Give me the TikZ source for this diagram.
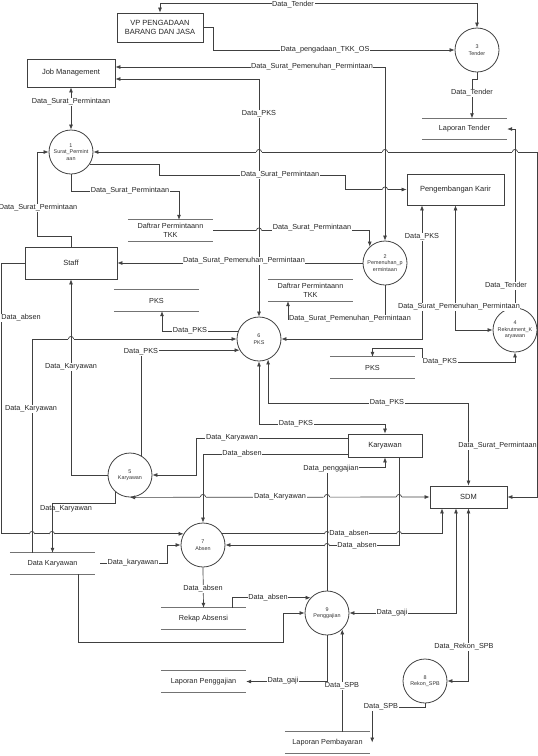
\documentclass[tikz,border=0pt]{standalone}
\usepackage{fontspec}
\setmainfont{Liberation Sans}
\usetikzlibrary{arrows.meta}

\newcommand{\lblfont}{\fontsize{7.3}{8.5}\selectfont}
\newcommand{\entfont}{\fontsize{7.5}{9}\selectfont}
\newcommand{\procfont}{\fontsize{5.4}{6.4}\selectfont}

\tikzset{
  ent/.style={draw=black!75, line width=0.8pt, fill=white, align=center, font=\entfont, text=black!85, inner sep=1pt},
  proc/.style={draw=black!75, line width=0.8pt, circle, minimum size=44pt, inner sep=0pt, align=center, font=\procfont, text=black!80},
  store line/.style={draw=black!55, line width=1.1pt},
  store/.style={minimum width=85pt, minimum height=21pt, inner sep=0pt, align=center, font=\lblfont, text=black!85,
    append after command={(\tikzlastnode.north west) edge[store line] (\tikzlastnode.north east)
      (\tikzlastnode.south west) edge[store line] (\tikzlastnode.south east)}},
  flow/.style={draw=black!75, line width=0.7pt},
  lbl/.style={fill=white, inner sep=0.6pt, font=\lblfont, text=black!85},
}

\begin{document}
\begin{tikzpicture}[x=1pt, y=-1pt, >={Latex[length=5pt,width=4pt]}]
		\useasboundingbox (0,0) rectangle (538,756);

		% entitas
		\node[ent, minimum width=86, minimum height=29] (vp) at (160,27.5) {VP PENGADAAN\\BARANG DAN JASA};
		\node[ent, minimum width=88, minimum height=28] (jm) at (71,73) {Job Management};
		\node[ent, minimum width=92, minimum height=32] (staff) at (71,263) {Staff};
		\node[ent, minimum width=97, minimum height=31] (pk) at (455.5,189.5) {Pengembangan Karir};
		\node[ent, minimum width=74, minimum height=23] (ky) at (385,445.5) {Karyawan};
		\node[ent, minimum width=77, minimum height=22] (sdm) at (468.5,497) {SDM};

		% proses
		\node[proc] (p1) at (71,152) {1\\Surat\_Permint\\aan};
		\node[proc] (p2) at (385,263) {2\\Pemenuhan\_p\\ermintaan};
		\node[proc] (p3) at (477,50) {3\\Tender};
		\node[proc] (p4) at (515,330) {4\\Rekrutment\_K\\aryawan};
		\node[proc] (p5) at (130,475) {5\\Karyawan};
		\node[proc] (p6) at (259,339) {6\\PKS};
		\node[proc] (p7) at (203,545) {7\\Absen};
		\node[proc] (p8) at (425,681) {8\\Rekon\_SPB};
		\node[proc] (p9) at (327,613) {9\\Penggajian};

		% penyimpanan data
		\node[store] (lt) at (464.5,129) {Laporan Tender};
		\node[store] (dt1) at (170.5,230.5) {Daftrar Permintaann\\TKK};
		\node[store] (dt2) at (310.5,290.5) {Daftrar Permintaann\\TKK};
		\node[store] (ps1) at (156.5,300.5) {PKS};
		\node[store] (ps2) at (372.5,367.5) {PKS};
		\node[store] (dk) at (52.5,563.5) {Data Karyawan};
		\node[store] (ra) at (203.5,618.5) {Rekap Absensi};
		\node[store] (lpg) at (203.5,681.5) {Laporan Penggajian};
		\node[store] (lpb) at (327.5,742.5) {Laporan Pembayaran};

		% aliran data (atas)
		\draw[flow, <->] (vp.north) -- ++(0,-9) -| (p3.north);
		\draw[flow, ->] (vp.east) -- (213,27.5) |- (p3.west);
		\draw[flow, <->] ([yshift=6pt]jm.east) -| (p2.north);
		\draw[flow, <->] (jm.south) -- (p1.north);
		\draw[flow, <->] ([yshift=-6pt]jm.east) -| (p6.north);
		\draw[flow, <->] (p1.east) -- (537,152) |- (sdm.east);
		\draw[flow, ->] (p1.-33) -| (159,175) -- (345,175) |- (pk.west);
		\draw[flow, ->] (p1.south) |- ++(108,17) -- ([xshift=8.5pt]dt1.north);
		\draw[flow, ->] (staff.north) -- ++(0,-10) -| ([xshift=-11pt]p1.west) -- (p1.west);
		\draw[flow, ->] (p2.west) -- (staff.east);
		\draw[flow, ->] (p2.south) |- ++(-97,34) -- ([xshift=-22.5pt]dt2.south);
		\draw[flow, ->] (dt1.east) -| (p2.133);
		\draw[flow, <->] ([xshift=-33.5pt]pk.south) |- (p6.east);
		\draw[flow, <->] (pk.south) |- (p4.west);
		\draw[flow, ->] (p4.north) |- (lt.east);
		\draw[flow, ->] (p3.south) -- ++(0,7) -| ([xshift=7.5pt]lt.north);
		\draw[flow, <->] (ps2.north) -- ++(0,-8) -| (422,362) -| (p4.south);

		% aliran data (tengah)
		\draw[flow, ->] (p6.161) -| ([xshift=5.5pt]ps1.south);
		\draw[flow, ->] ([xshift=-20.5pt]dk.north) |- (p6.west);
		\draw[flow, ->] (p5.60) |- (p6.210);
		\draw[flow, ->] (p5.west) -| (staff.south);
		\draw[flow, ->] (p5.-130) -- ++(0,11) -| (dk.north);
		\draw[flow, ->] ([yshift=7.5pt]ky.west) -- ++(-151,0) |- (p5.east);
		\draw[flow, ->] ([yshift=-8.5pt]ky.west) -| (p7.north);
		\draw[flow, <->] (p5.south) -- (sdm.west);
		\draw[flow, ->] (staff.west) -- ++(-23,0) |- (p7.150);
		\draw[flow, ->] ([xshift=5pt]dk.east) -- ++(67,0) |- (p7.west);
		\draw[flow, ->] (p7.30) -| ([xshift=-26.5pt]sdm.south);
		\draw[flow, ->] ([xshift=14pt]ky.south) |- (p7.east);
		\draw[flow, ->] (p9.north) -- ++(0,-123) -| (ky.south);
		\draw[flow, <->] (p6.south) -- ++(0,63) -| (ky.north);
		\draw[flow, <->] (p6.-66) -- ++(0,44) -| (sdm.north);

		% aliran data (bawah)
		\draw[flow, <->] ([xshift=-12.5pt]sdm.south) |- (p9.east);
		\draw[flow, <->] (sdm.south) |- (p8.east);
		\draw[flow, ->] (p7.south) -- (ra.north);
		\draw[flow, ->] ([xshift=28.5pt]ra.north) |- (p9.137);
		\draw[flow, ->] ([xshift=25.5pt]dk.south) -- ++(0,68) -| ([xshift=-21pt]p9.west) -- (p9.west);
		\draw[flow, ->] (p9.south) |- (lpg.east);
		\draw[flow, ->] (lpb.north -| p9.-47) -- (p9.-47);
		\draw[flow, ->] (p8.south) -- ++(0,4) -| ([xshift=2pt]lpb.east);

		% lompatan garis
		\foreach \hx/\hy in {259/152, 385/152, 515/152, 259/175, 385/189.5, 259/230.5, 71/339,
			203/497, 327/497, 399/497, 327/534, 399/534, 327/546, 32/534, 52/534} {
			\fill[white] (\hx-2.7,\hy-0.7) rectangle (\hx+2.7,\hy+0.7);
			\draw[flow] (\hx,\hy-1.6) -- (\hx,\hy+1.6);
			\draw[flow] (\hx-2.6,\hy) .. controls (\hx-2.6,\hy-3.4) and (\hx+2.6,\hy-3.4) .. (\hx+2.6,\hy);
		}

		% label
		\node[lbl] (l1) at (293,5) {Data\_Tender};
		\node[lbl] (l2) at (325,50) {Data\_pengadaan\_TKK\_OS};
		\node[lbl] (l3) at (312,67) {Data\_Surat\_Pemenuhan\_Permintaan};
		\node[lbl] (l4) at (71,102) {Data\_Surat\_Permintaan};
		\node[lbl] (l5) at (259,114) {Data\_PKS};
		\node[lbl, anchor=east] (l6) at (537.5,446) {Data\_Surat\_Permintaan};
		\node[lbl] (l7) at (280,175) {Data\_Surat\_Permintaan};
		\node[lbl] (l8) at (130,191) {Data\_Surat\_Permintaan};
		\node[lbl] (l9) at (38,208) {Data\_Surat\_Permintaan};
		\node[lbl] (l10) at (244,261) {Data\_Surat\_Pemenuhan\_Permintaan};
		\node[lbl] (l11) at (350,319) {Data\_Surat\_Pemenuhan\_Permintaan};
		\node[lbl] (l12) at (312,228) {Data\_Surat\_Permintaan};
		\node[lbl] (l13) at (422,237) {Data\_PKS};
		\node[lbl] (l14) at (459,307) {Data\_Surat\_Pemenuhan\_Permintaan};
		\node[lbl] (l15) at (506,286) {Data\_Tender};
		\node[lbl] (l16) at (472,93) {Data\_Tender};
		\node[lbl] (l17) at (440,362) {Data\_PKS};
		\node[lbl] (l18) at (190,331) {Data\_PKS};
		\node[lbl] (l19) at (31,409) {Data\_Karyawan};
		\node[lbl] (l20) at (141,352) {Data\_PKS};
		\node[lbl] (l21) at (71,367) {Data\_Karyawan};
		\node[lbl, fill=none] (l22) at (66,509) {Data\_Karyawan};
		\node[lbl] (l23) at (232,438) {Data\_Karyawan};
		\node[lbl] (l24) at (242,454) {Data\_absen};
		\node[lbl] (l25) at (280,497) {Data\_Karyawan};
		\node[lbl, anchor=west] (l26) at (0.5,318) {Data\_absen};
		\node[lbl] (l27) at (133,563) {Data\_karyawan};
		\node[lbl] (l28) at (349,534) {Data\_absen};
		\node[lbl] (l29) at (357,546) {Data\_absen};
		\node[lbl] (l30) at (331,469) {Data\_penggajian};
		\node[lbl] (l31) at (296,424) {Data\_PKS};
		\node[lbl] (l32) at (387,403) {Data\_PKS};
		\node[lbl] (l33) at (392,613) {Data\_gaji};
		\node[lbl] (l34) at (464,647) {Data\_Rekon\_SPB};
		\node[lbl] (l35) at (203,589) {Data\_absen};
		\node[lbl] (l36) at (268,598) {Data\_absen};
		\node[lbl] (l38) at (283,681) {Data\_gaji};
		\node[lbl] (l39) at (342,686) {Data\_SPB};
		\node[lbl] (l40) at (381,707) {Data\_SPB};
\end{tikzpicture}
\end{document}
